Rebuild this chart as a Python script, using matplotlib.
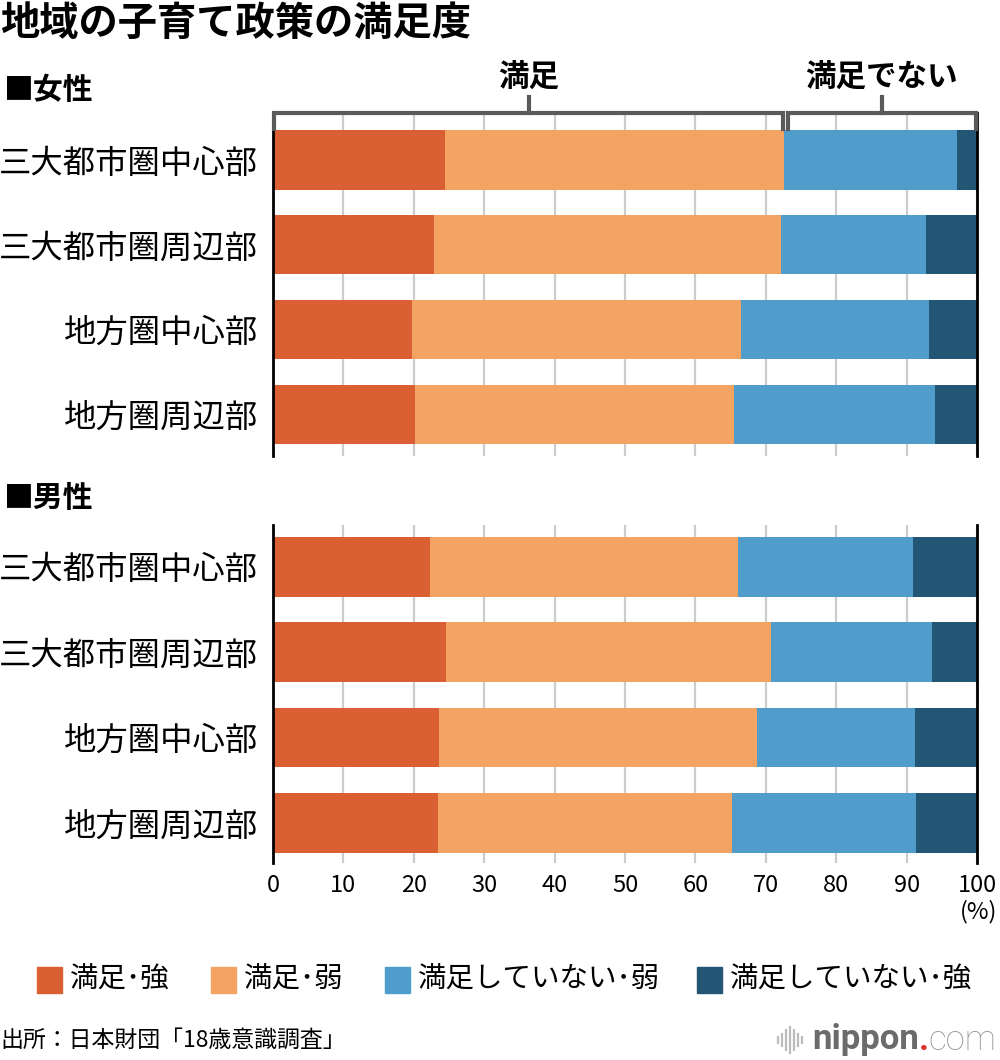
import matplotlib
matplotlib.use("Agg")
import matplotlib.pyplot as plt
import numpy as np
from matplotlib.patches import Rectangle
from matplotlib.lines import Line2D

plt.rcParams["font.family"] = ["Noto Sans CJK JP", "DejaVu Sans"]

regions = ["三大都市圏中心部", "三大都市圏周辺部", "地方圏中心部", "地方圏周辺部"]
series_names = ["満足･強", "満足･弱", "満足していない･弱", "満足していない･強"]
colors = ["#DA6033", "#F3A463", "#509DCB", "#235674"]

# values in %
female_strong = [24.4, 22.8, 19.7, 20.1]
female_weak = [48.2, 49.3, 46.8, 45.4]
female_not_weak = [24.5, 20.7, 26.7, 28.5]
female_not_strong = [2.9, 7.2, 6.8, 6.0]

male_strong = [22.3, 24.6, 23.6, 23.4]
male_weak = [43.7, 46.1, 45.1, 41.8]
male_not_weak = [24.9, 22.9, 22.5, 26.2]
male_not_strong = [9.1, 6.4, 8.8, 8.6]

xticks = [0, 10, 20, 30, 40, 50, 60, 70, 80, 90, 100]

W, H = 1000, 1060
fig = plt.figure(figsize=(W / 100, H / 100), dpi=100)


def fx(px):
    return px / W


def fy(py):
    return 1 - py / H


def panel(rect, ylim, series):
    ax = fig.add_axes(rect)
    y = np.arange(len(regions))
    left = np.zeros(len(regions))
    for vals, col in zip(series, colors):
        ax.barh(y, vals, left=left, height=0.7, color=col, linewidth=0)
        left += np.array(vals)
    ax.set_xlim(0, 100)
    ax.set_ylim(*ylim)
    ax.set_yticks(y)
    ax.set_yticklabels(regions, fontsize=23.3)
    ax.set_xticks(xticks)
    ax.set_axisbelow(True)
    ax.grid(axis="x", color="#cccccc", lw=1.6)
    for s in ["top", "bottom"]:
        ax.spines[s].set_visible(False)
    for s in ["left", "right"]:
        ax.spines[s].set_color("black")
        ax.spines[s].set_linewidth(2)
    ax.tick_params(axis="y", length=0, pad=11)
    ax.tick_params(axis="x", length=0, pad=8, labelsize=17)
    return ax


ax_f = panel([fx(273), fy(456), fx(977) - fx(273), fy(113) - fy(456)],
             (3.49, -0.554),
             [female_strong, female_weak, female_not_weak, female_not_strong])
ax_f.tick_params(axis="x", labelbottom=False)

ax_m = panel([fx(273), fy(863), fx(977) - fx(273), fy(525) - fy(863)],
             (3.47, -0.49),
             [male_strong, male_weak, male_not_weak, male_not_strong])

# bracket above the female panel
split = female_strong[0] + female_weak[0]
bc = "#5a5a5a"
y_top, y_end, y_tick = -0.554, -0.36, -0.74
for a, b, label in [(0.2, split - 0.2, "満足"), (split + 0.6, 99.8, "満足でない")]:
    ax_f.plot([a, a, b, b], [y_end, y_top, y_top, y_end], color=bc, lw=3,
              clip_on=False, solid_joinstyle="miter", zorder=5)
    mid = (a + b) / 2
    ax_f.plot([mid, mid], [y_top, y_tick], color=bc, lw=3, clip_on=False, zorder=5)
    ax_f.text(mid, -0.97, label, ha="center", va="center", fontsize=22,
              fontweight="bold", clip_on=False)

fig.text(0.0, fy(23), "地域の子育て政策の満足度", fontsize=28.3, fontweight="bold",
         va="center", ha="left")
fig.text(0.003, fy(90), "■女性", fontsize=21.5, fontweight="bold", va="center")
fig.text(0.003, fy(498), "■男性", fontsize=21.5, fontweight="bold", va="center")

fig.text(fx(997), fy(912), "(%)", fontsize=17, ha="right", va="center")

# legend
leg_x = [37, 211, 385, 697]
for lx, name, col in zip(leg_x, series_names, colors):
    fig.add_artist(Rectangle((fx(lx), fy(993)), fx(25), fy(967) - fy(993),
                             color=col, transform=fig.transFigure))
    fig.text(fx(lx + 33), fy(980), name, fontsize=20.5, va="center", ha="left")

fig.text(0.0, fy(1040), "出所：日本財団「18歳意識調査」", fontsize=16.5, va="center")

# nippon.com mark
bar_h = [6, 12, 20, 26, 20, 12, 6]
for i, h in enumerate(bar_h):
    x = fx(778 + i * 4)
    fig.add_artist(Line2D([x, x], [fy(1040 + h / 2), fy(1040 - h / 2)],
                          color="#bbbbbb", lw=1.6, transform=fig.transFigure))
t1 = fig.text(fx(812), fy(1040), "nippon", fontsize=25, color="#6b6b6b",
              va="center", ha="left", family="Roboto", fontweight="bold")
fig.canvas.draw()
bb = t1.get_window_extent()
t2 = fig.text(bb.x1 / W, fy(1040), ".", fontsize=25, color="#e0302a",
              va="center", ha="left", family="Roboto", fontweight="bold")
bb2 = t2.get_window_extent()
fig.text(bb2.x1 / W, fy(1040), "com", fontsize=25, color="#9a9a9a",
         va="center", ha="left", family="Roboto", fontweight="light")

fig.savefig("out.png", dpi=100)
